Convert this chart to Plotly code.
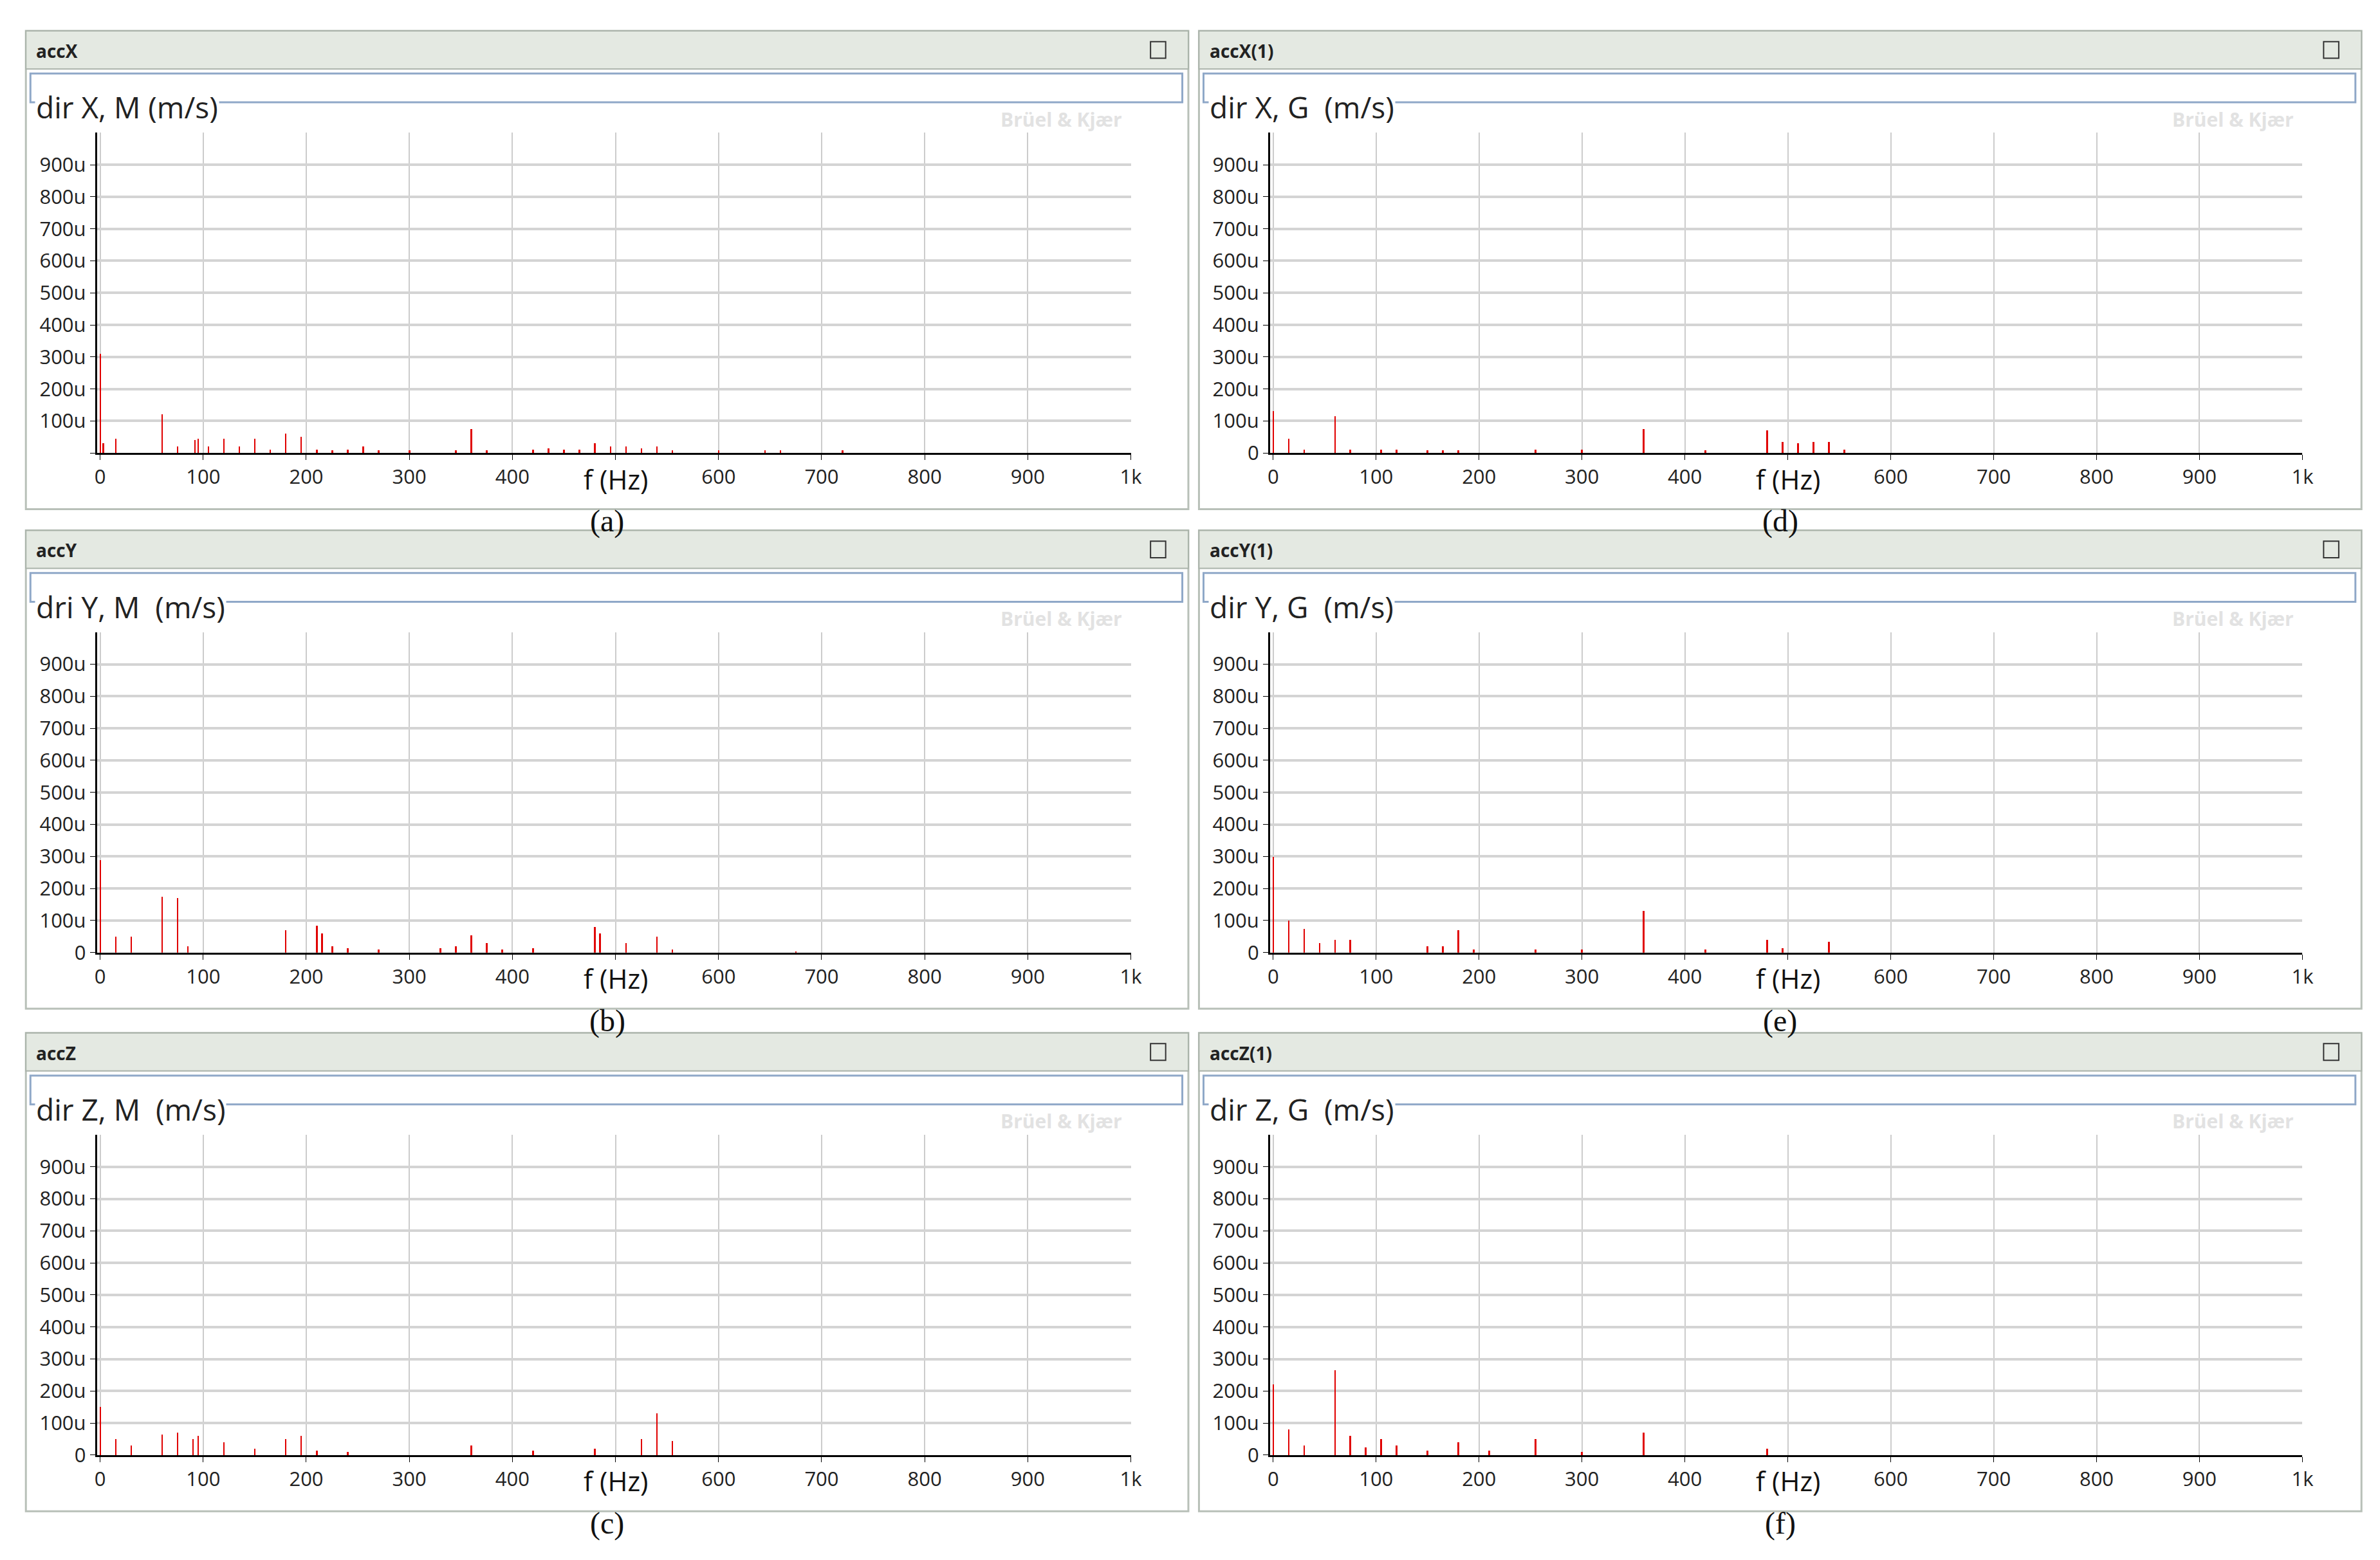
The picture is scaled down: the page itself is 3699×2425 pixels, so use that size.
import plotly.graph_objects as go

# ---- data (amplitudes in micro m/s) ----
freq_a = [0, 3, 15, 60, 75, 92, 95, 105, 120, 135, 150, 165, 180, 195, 210, 225, 240, 255, 270, 300, 345, 360, 375,
          420, 435, 450, 465, 480, 495, 510, 525, 540, 555, 600, 645, 660, 720]
amp_a = [310, 30, 45, 120, 20, 40, 45, 20, 45, 20, 45, 10, 60, 50, 10, 8, 10, 20, 8, 8, 8, 75, 8,
         10, 15, 10, 10, 30, 20, 20, 15, 20, 8, 8, 8, 8, 8]

freq_b = [0, 15, 30, 60, 75, 85, 180, 210, 215, 225, 240, 270, 330, 345, 360, 375, 390, 420, 480, 485, 510, 540, 555, 675]
amp_b = [290, 50, 50, 175, 170, 20, 70, 85, 60, 20, 15, 10, 15, 20, 55, 30, 10, 15, 80, 60, 30, 50, 10, 5]

freq_c = [0, 15, 30, 60, 75, 90, 95, 120, 150, 180, 195, 210, 240, 360, 420, 480, 525, 540, 555]
amp_c = [150, 50, 30, 65, 70, 50, 60, 40, 20, 50, 60, 15, 10, 30, 15, 20, 50, 130, 45]

freq_d = [0, 15, 30, 60, 75, 105, 120, 150, 165, 180, 255, 300, 360, 420, 480, 495, 510, 525, 540, 555]
amp_d = [130, 45, 10, 115, 10, 10, 10, 8, 8, 8, 10, 10, 75, 8, 70, 35, 30, 35, 35, 10]

freq_e = [0, 15, 30, 45, 60, 75, 150, 165, 180, 195, 255, 300, 360, 420, 480, 495, 540]
amp_e = [300, 100, 75, 30, 40, 40, 20, 20, 70, 10, 10, 10, 130, 10, 40, 15, 35]

freq_f = [0, 15, 30, 60, 75, 90, 105, 120, 150, 180, 210, 255, 300, 360, 480]
amp_f = [220, 80, 30, 265, 60, 25, 50, 30, 15, 40, 15, 50, 10, 70, 20]

headers = ["accX", "accY", "accZ", "accX(1)", "accY(1)", "accZ(1)"]
titles = ["dir X, M (m/s)", "dri Y, M  (m/s)", "dir Z, M  (m/s)",
          "dir X, G  (m/s)", "dir Y, G  (m/s)", "dir Z, G  (m/s)"]
captions = ["(a)", "(b)", "(c)", "(d)", "(e)", "(f)"]
freqs = [freq_a, freq_b, freq_c, freq_d, freq_e, freq_f]
amps = [amp_a, amp_b, amp_c, amp_d, amp_e, amp_f]

x_ticks = [0, 100, 200, 300, 400, 500, 600, 700, 800, 900, 1000]
x_labels = ["0", "100", "200", "300", "400", "", "600", "700", "800", "900", "1k"]
y_ticks = [0, 100, 200, 300, 400, 500, 600, 700, 800, 900]
y_labels = ["0"] + [f"{v}u" for v in y_ticks[1:]]

# display-coordinate helpers (reference seen at 1563 x 1019)
W, H = 1563.0, 1019.0
def px(x): return x / W
def py(y): return 1 - y / H

row_dy = [0, 329, 660]
col = [dict(frame=(12, 780), plot=(59, 742)), dict(frame=(787, 1555), plot=(834, 1516))]

fig = go.Figure()
shapes, annos = [], []
red = "#e00000"
tick_font = dict(family="Open Sans", size=31, color="#222")

for i in range(6):
    c, r = divmod(i, 3)
    dy = row_dy[r]
    fx0, fx1 = col[c]["frame"]
    pl0, pl1 = col[c]["plot"]
    n = i + 1
    xr = f"x{n}" if n > 1 else "x"
    yr = f"y{n}" if n > 1 else "y"
    fig.add_trace(go.Bar(x=freqs[i], y=amps[i], width=1.6, marker=dict(color=red, line=dict(width=0)),
                         xaxis=xr, yaxis=yr, showlegend=False))
    fig.layout[xr.replace("x", "xaxis")] = dict(
        domain=[px(pl0), px(pl1)], range=[-3, 1000], tickvals=x_ticks, ticktext=x_labels,
        showgrid=True, gridcolor="#cccccc", gridwidth=2, showline=True, linecolor="black",
        linewidth=3, ticks="outside", ticklen=8, tickcolor="black", tickfont=tick_font,
        anchor=yr, zeroline=False, fixedrange=True)
    labels = list(y_labels)
    if i == 0:
        labels[0] = ""
    fig.layout[yr.replace("y", "yaxis")] = dict(
        domain=[py(295 + dy), py(84 + dy)], range=[0, 1000], tickvals=y_ticks, ticktext=labels,
        showgrid=True, gridcolor="#d4d4d4", gridwidth=4, showline=True, linecolor="black",
        linewidth=3, ticks="outside", ticklen=8, tickcolor="black", tickfont=tick_font,
        anchor=xr, zeroline=False, fixedrange=True)

    # panel frame, header bar, title box
    shapes.append(dict(type="rect", xref="paper", yref="paper", x0=px(fx0), x1=px(fx1),
                       y0=py(332 + dy), y1=py(17 + dy), line=dict(color="#b8c0b8", width=3), layer="below"))
    shapes.append(dict(type="rect", xref="paper", yref="paper", x0=px(fx0), x1=px(fx1),
                       y0=py(42 + dy), y1=py(17 + dy), fillcolor="#e4e9e2", line=dict(color="#aab3aa", width=2),
                       layer="below"))
    shapes.append(dict(type="rect", xref="paper", yref="paper", x0=px(fx1 - 25), x1=px(fx1 - 15),
                       y0=py(35 + dy), y1=py(24 + dy), line=dict(color="#333", width=2)))
    shapes.append(dict(type="rect", xref="paper", yref="paper", x0=px(fx0 + 3), x1=px(fx1 - 4),
                       y0=py(64 + dy), y1=py(45 + dy), line=dict(color="#8fa8c8", width=3), layer="below"))
    annos.append(dict(text=f"<b>{headers[i]}</b>", x=px(fx0 + 6), y=py(30 + dy), xref="paper", yref="paper",
                      xanchor="left", yanchor="middle", showarrow=False,
                      font=dict(family="Open Sans", size=28, color="#222")))
    annos.append(dict(text=titles[i], x=px(fx0 + 6), y=py(67 + dy), xref="paper", yref="paper",
                      xanchor="left", yanchor="middle", showarrow=False, bgcolor="white",
                      font=dict(family="Open Sans", size=46, color="#222")))
    annos.append(dict(text="<b>Brüel & Kjær</b>", x=px(pl1 - 5), y=py(75 + dy), xref="paper", yref="paper",
                      xanchor="right", yanchor="middle", showarrow=False,
                      font=dict(family="Open Sans", size=30, color="#e2e2e2")))
    annos.append(dict(text="f (Hz)", x=500, y=py(299 + dy), xref=xr, yref="paper",
                      xanchor="center", yanchor="top", showarrow=False,
                      font=dict(family="Open Sans", size=42, color="#111")))
    annos.append(dict(text=captions[i], x=px((fx0 + fx1) / 2), y=py(340 + dy),
                      xref="paper", yref="paper", xanchor="center", yanchor="middle", showarrow=False,
                      font=dict(family="Liberation Serif", size=48, color="#111")))

fig.update_layout(width=3699, height=2425, margin=dict(l=0, r=0, t=0, b=0),
                  paper_bgcolor="white", plot_bgcolor="white", bargap=0,
                  shapes=shapes, annotations=annos)

fig.write_html("out.html")
